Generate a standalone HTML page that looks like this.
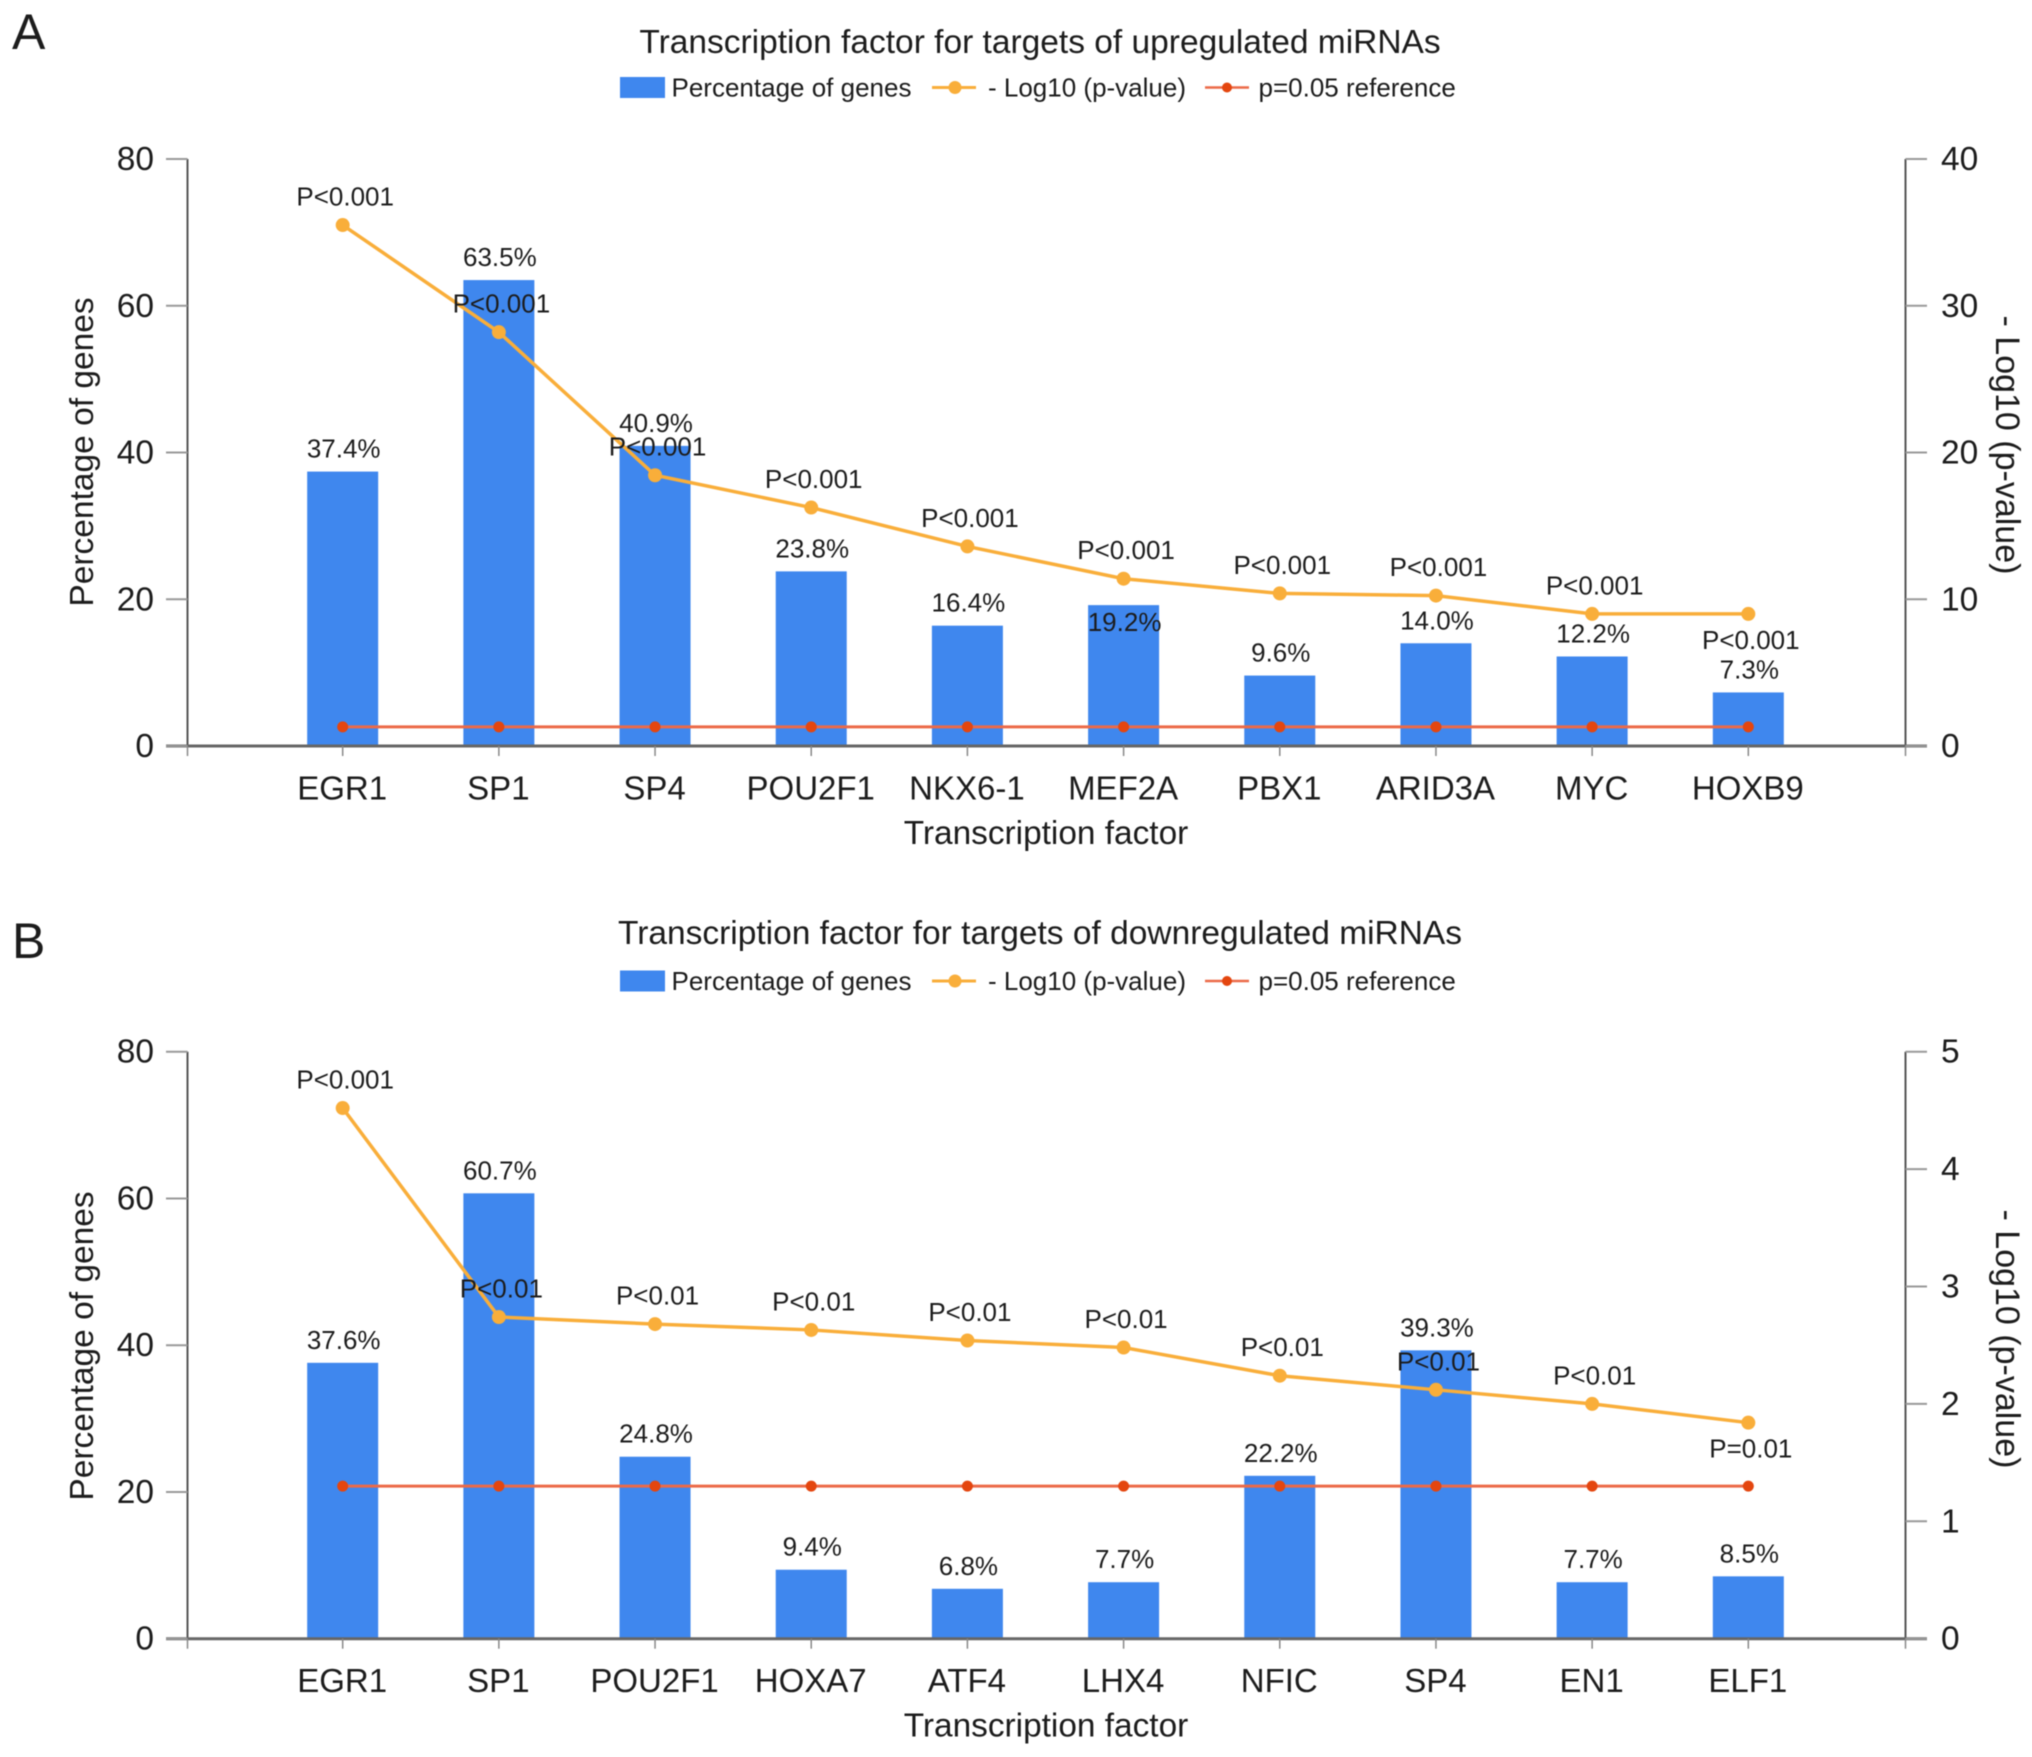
<!DOCTYPE html>
<html lang="en">
<head>
<meta charset="utf-8">
<title>Transcription factors for targets of miRNAs</title>
<style>
html,body{margin:0;padding:0;background:#fff;width:2032px;height:1757px;overflow:hidden}
svg{display:block;filter:blur(0.5px)}
text{font-family:"Liberation Sans",Arial,sans-serif;fill:#1c1c1c}
</style>
</head>
<body>
<svg id="figure" width="2032" height="1757" viewBox="0 0 2032 1757" xmlns="http://www.w3.org/2000/svg"></svg>
<script>
// Shared axis ticks
const leftTicks = [0, 20, 40, 60, 80];

// Panel A data
const categoriesA = ['EGR1','SP1','SP4','POU2F1','NKX6-1','MEF2A','PBX1','ARID3A','MYC','HOXB9'];
const percentA = [37.4, 63.5, 40.9, 23.8, 16.4, 19.2, 9.6, 14.0, 12.2, 7.3];
const logPA = [35.5, 28.2, 18.45, 16.25, 13.6, 11.4, 10.4, 10.25, 9.0, 9.0];
const refA = [1.3, 1.3, 1.3, 1.3, 1.3, 1.3, 1.3, 1.3, 1.3, 1.3];
const pLabelsA = ['P<0.001','P<0.001','P<0.001','P<0.001','P<0.001','P<0.001','P<0.001','P<0.001','P<0.001','P<0.001'];
const rightTicksA = [0, 10, 20, 30, 40];
const percentInsideA = ['MEF2A'];
const pBelowA = ['HOXB9'];

// Panel B data
const categoriesB = ['EGR1','SP1','POU2F1','HOXA7','ATF4','LHX4','NFIC','SP4','EN1','ELF1'];
const percentB = [37.6, 60.7, 24.8, 9.4, 6.8, 7.7, 22.2, 39.3, 7.7, 8.5];
const logPB = [4.52, 2.74, 2.68, 2.63, 2.54, 2.48, 2.24, 2.12, 2.0, 1.84];
const refB = [1.3, 1.3, 1.3, 1.3, 1.3, 1.3, 1.3, 1.3, 1.3, 1.3];
const pLabelsB = ['P<0.001','P<0.01','P<0.01','P<0.01','P<0.01','P<0.01','P<0.01','P<0.01','P<0.01','P=0.01'];
const rightTicksB = [0, 1, 2, 3, 4, 5];
const percentInsideB = [];
const pBelowB = ['ELF1'];

const SVG_NS = 'http://www.w3.org/2000/svg';
const fig = document.getElementById('figure');
const BAR = '#3f87ee', ORANGE = '#f9ae3a', RED = '#ec6a48', REDDOT = '#e4460f';
const AXIS_L = 187.5, AXIS_R = 1905.5, PLOT_H = 587;

function mk(tag, attrs, parent) {
  const el = document.createElementNS(SVG_NS, tag);
  for (const k in attrs) el.setAttribute(k, attrs[k]);
  parent.appendChild(el);
  return el;
}
function label(str, x, y, size, anchor, parent, transform) {
  const el = mk('text', {x: x, y: y, 'font-size': size, 'text-anchor': anchor}, parent);
  if (transform) el.setAttribute('transform', transform);
  el.textContent = str;
  return el;
}

function drawPanel(letter, letterX, letterY, title, titleY, legendY, base, rightTitleY, leftTitleY, categories, percent, logP, ref, pLabels, rightTicks, percentInside, pBelow) {
  const rightMax = rightTicks[rightTicks.length - 1];
  const step = (AXIS_R - AXIS_L) / (categories.length + 1);
  const xScale = i => AXIS_L + step * (i + 1) - 1;
  const yLeft = v => base - v / leftTicks[leftTicks.length - 1] * PLOT_H;
  const yRight = v => base - v / rightMax * PLOT_H;

  const panel = mk('g', {}, fig);
  
  

  const letterEl = label(letter, letterX, letterY, 50, 'start', panel);
  
  

  const titleEl = label(title, 1040, titleY, 33.5, 'middle', panel);
  
  

  // Legend
  const legend = mk('g', {}, panel);
  
  
  const swatch = mk('rect', {x: 620, y: legendY - 10.5, width: 45, height: 21, fill: BAR}, legend);
  
  
  const lt1 = label('Percentage of genes', 671.5, legendY + 9, 26, 'start', legend);
  
  
  const ll2 = mk('line', {x1: 932, x2: 976, y1: legendY, y2: legendY, stroke: ORANGE, 'stroke-width': 3}, legend);
  
  
  const ld2 = mk('circle', {cx: 955, cy: legendY, r: 6.5, fill: ORANGE}, legend);
  
  
  const lt2 = label('- Log10 (p-value)', 988, legendY + 9, 26, 'start', legend);
  
  
  const ll3 = mk('line', {x1: 1205, x2: 1249, y1: legendY, y2: legendY, stroke: RED, 'stroke-width': 2.5}, legend);
  
  
  const ld3 = mk('circle', {cx: 1227, cy: legendY, r: 5, fill: REDDOT}, legend);
  
  
  const lt3 = label('p=0.05 reference', 1258.5, legendY + 9, 26, 'start', legend);
  
  

  // Bars
  percent.forEach((v, i) => {
    const bar = mk('rect', {x: xScale(i) - 35.5, y: yLeft(v), width: 71, height: base - yLeft(v), fill: BAR}, panel);
    
    
  });

  // Axes
  const leftAxis = mk('line', {x1: AXIS_L, x2: AXIS_L, y1: yLeft(leftTicks[leftTicks.length - 1]), y2: base, stroke: '#555', 'stroke-width': 2}, panel);
  
  
  const rightAxis = mk('line', {x1: AXIS_R, x2: AXIS_R, y1: yRight(rightMax), y2: base, stroke: '#555', 'stroke-width': 2}, panel);
  
  
  const xAxis = mk('line', {x1: 166, x2: 1927, y1: base, y2: base, stroke: '#666', 'stroke-width': 3}, panel);
  
  

  leftTicks.forEach(t => {
    const tick = mk('line', {x1: 166, x2: AXIS_L, y1: yLeft(t), y2: yLeft(t), stroke: '#999', 'stroke-width': 2}, panel);
    
    
    const txt = label(String(t), 154, yLeft(t) + 11, 33.5, 'end', panel);
    
    
  });
  rightTicks.forEach(t => {
    const tick = mk('line', {x1: AXIS_R, x2: 1927, y1: yRight(t), y2: yRight(t), stroke: '#999', 'stroke-width': 2}, panel);
    
    
    const txt = label(String(t), 1941, yRight(t) + 11, 33.5, 'start', panel);
    
    
  });
  for (let i = -1; i <= categories.length; i++) {
    const tx = i === -1 ? AXIS_L : i === categories.length ? AXIS_R : xScale(i);
    const tick = mk('line', {x1: tx, x2: tx, y1: base, y2: base + 10, stroke: '#888', 'stroke-width': 1.5}, panel);
    
    
  }
  categories.forEach((c, i) => {
    const txt = label(c, xScale(i) - 0.5, base + 53.5, 33, 'middle', panel);
    
    
  });

  // Axis titles
  const xTitle = label('Transcription factor', 1046, base + 98, 33.4, 'middle', panel);
  
  
  const yTitle = label('Percentage of genes', 93, leftTitleY, 33.5, 'middle', panel, 'rotate(-90 93 ' + leftTitleY + ')');
  
  
  const y2Title = label('- Log10 (p-value)', 1996, rightTitleY, 34, 'middle', panel, 'rotate(90 1996 ' + rightTitleY + ')');
  
  

  // Reference line
  const refLine = mk('polyline', {points: ref.map((v, i) => xScale(i) + ',' + yRight(v)).join(' '), fill: 'none', stroke: RED, 'stroke-width': 3}, panel);
  
  
  ref.forEach((v, i) => {
    const dot = mk('circle', {cx: xScale(i), cy: yRight(v), r: 5.5, fill: REDDOT}, panel);
    
    
  });

  // -Log10 p line
  const pLine = mk('polyline', {points: logP.map((v, i) => xScale(i) + ',' + yRight(v)).join(' '), fill: 'none', stroke: ORANGE, 'stroke-width': 3.5}, panel);
  
  
  logP.forEach((v, i) => {
    const dot = mk('circle', {cx: xScale(i), cy: yRight(v), r: 7, fill: ORANGE}, panel);
    
    
  });

  // Printed values
  percent.forEach((v, i) => {
    const inside = percentInside.includes(categories[i]);
    const txt = label(v.toFixed(1) + '%', xScale(i) + 1, yLeft(v) + (inside ? 26 : -14), 26, 'middle', panel);
    
    
  });
  pLabels.forEach((s, i) => {
    const below = pBelow.includes(categories[i]);
    const txt = label(s, xScale(i) + 2.5, yRight(logP[i]) + (below ? 35 : -19.5), 26, 'middle', panel);
    
    
  });
}

drawPanel('A', 12, 49, 'Transcription factor for targets of upregulated miRNAs', 53, 87.5, 746, 445, 452,
  categoriesA, percentA, logPA, refA, pLabelsA, rightTicksA, percentInsideA, pBelowA);
drawPanel('B', 12, 958, 'Transcription factor for targets of downregulated miRNAs', 944, 981, 1638.7, 1339, 1346,
  categoriesB, percentB, logPB, refB, pLabelsB, rightTicksB, percentInsideB, pBelowB);
</script>
</body>
</html>
